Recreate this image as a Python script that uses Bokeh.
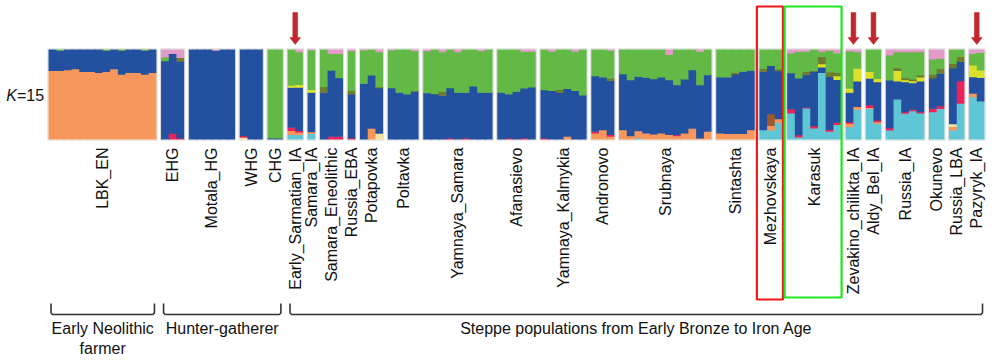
import numpy as np
from bokeh.plotting import figure
from bokeh.models import Range1d
from bokeh.core.properties import value
from bokeh.embed import file_html
from bokeh.resources import INLINE

# ---------------- data ----------------
# ancestry components, stacked bottom -> top
COMPONENTS = ["cyan", "orange", "cream", "red", "brown", "blue", "yellow", "olive", "green", "pink"]
COMPONENT_COLORS = ["#5ec6d4", "#f7975b", "#f4e6a2", "#e8245c", "#9c5a2e",
                    "#23509f", "#dbe02b", "#6f7b2e", "#63b946", "#e29ac8"]

POPULATIONS = ["LBK_EN", "EHG", "Motala_HG", "WHG", "CHG", "Early_Sarmatian_IA", "Samara_IA",
               "Samara_Eneolithic", "Russia_EBA", "Potapovka", "Poltavka", "Yamnaya_Samara",
               "Afanasievo", "Yamnaya_Kalmykia", "Andronovo", "Srubnaya", "Sintashta",
               "Mezhovskaya", "Karasuk", "Zevakino_chilikta_IA", "Aldy_Bel_IA", "Russia_IA",
               "Okunevo", "Russia_LBA", "Pazyryk_IA"]

# one row per individual, % per component:
#   (cyan, orange, cream, red, brown, blue, yellow, olive, green, pink)
LBK_EN = [
    (0, 76, 0, 0, 0, 24, 0, 0, 0, 0), (0, 76, 0, 0, 0, 22.5, 0, 0, 1.5, 0),
    (0, 77, 0, 0, 0, 23, 0, 0, 0, 0), (0, 78, 0, 0, 0, 22, 0, 0, 0, 0),
    (0, 75, 0, 0, 0, 25, 0, 0, 0, 0), (0, 75, 0, 0, 0, 25, 0, 0, 0, 0),
    (0, 74, 0, 0, 0, 26, 0, 0, 0, 0), (0, 75, 0, 0, 0, 23.5, 0, 0, 1.5, 0),
    (0, 78, 0, 0, 0, 22, 0, 0, 0, 0), (0, 72, 0, 0, 0, 26.5, 0, 0, 1.5, 0),
    (0, 74, 0, 0, 0, 26, 0, 0, 0, 0), (0, 74, 0, 0, 0, 26, 0, 0, 0, 0),
    (0, 72, 0, 0, 0, 26.5, 0, 0, 1.5, 0), (0, 74, 0, 0, 0, 26, 0, 0, 0, 0),
]
EHG = [
    (0, 0, 0, 0, 0, 87, 0, 0, 4, 9),
    (0, 0, 0, 6.5, 0, 88.5, 0, 0, 0, 5),
    (0, 0, 0, 1, 0, 85.5, 0, 4, 0, 9.5),
]
MOTALA_HG = [
    (0, 0, 0, 0, 0, 100, 0, 0, 0, 0), (0, 0, 0, 0, 0, 100, 0, 0, 0, 0),
    (0, 0, 0, 0, 0, 100, 0, 0, 0, 0), (0, 0, 0, 0, 0, 98.5, 0, 0, 0, 1.5),
    (0, 0, 0, 0, 0, 100, 0, 0, 0, 0), (0, 0, 0, 0, 0, 100, 0, 0, 0, 0),
]
WHG = [
    (0, 0, 2, 1.5, 0, 96.5, 0, 0, 0, 0),
    (0, 0, 0, 0, 0, 100, 0, 0, 0, 0),
    (0, 0, 0, 0, 0, 100, 0, 0, 0, 0),
]
CHG = [
    (0, 0, 0, 0, 0, 1, 0, 0, 99, 0),
    (0, 0, 0, 0, 0, 1, 0, 0, 99, 0),
]
EARLY_SARMATIAN_IA = [
    (5, 4.5, 0, 3.5, 0, 44.5, 2.2, 0, 40.3, 0),
    (5, 2.5, 0, 2, 0, 48, 3, 0, 36.5, 3),
]
SAMARA_IA = [
    (6, 2, 0, 0, 0, 44, 3, 0, 44, 1),
]
SAMARA_ENEOLITHIC = [
    (0, 0, 0, 0, 0, 52, 0, 6, 42, 0),
    (0, 0, 0, 3, 0, 73.5, 0, 0, 18.5, 5),
    (0, 0, 0, 3, 0, 65, 0, 0, 27, 5),
]
RUSSIA_EBA = [
    (0, 0, 0, 1, 0, 49, 0, 4, 44, 2),
]
POTAPOVKA = [
    (0, 0, 0, 0, 0, 62, 0, 0, 37, 1),
    (0, 12, 0, 0, 0, 59, 0, 0, 29, 0),
    (0, 0, 6.5, 0, 0, 50.5, 0, 1, 39, 3),
]
POLTAVKA = [
    (0, 0, 0, 0, 0, 57, 0, 0, 42, 1),
    (0, 0, 0, 0, 0, 52, 0, 0, 48, 0),
    (0, 0, 0, 0, 0, 50, 0, 0, 50, 0),
    (0, 0, 0, 0, 0, 53, 0, 1, 44, 2),
]
YAMNAYA_SAMARA = [
    (0, 0, 0, 0, 0, 51.5, 0, 0, 46.5, 2),
    (0, 0, 0, 0, 0, 50.4, 0, 0, 49.6, 0),
    (0, 0, 0, 0, 0, 48.5, 0, 4.5, 44, 3),
    (0, 0, 0, 1, 0, 56, 0, 0, 43, 0),
    (0, 0, 0, 0, 0, 52, 0, 0, 45, 3),
    (0, 0, 0, 1, 0, 51, 0, 0, 48, 0),
    (0, 0, 0, 0, 0, 59, 0, 0, 41, 0),
    (0, 0, 0, 0, 0, 52, 0, 0, 46, 2),
    (0, 0, 0, 0, 0, 52, 0, 0, 48, 0),
]
AFANASIEVO = [
    (0, 0, 0, 0, 0, 52, 0, 0, 48, 0),
    (0, 0, 0, 1, 0, 49, 0, 0, 50, 0),
    (0, 0, 0, 0, 0, 53, 0, 0, 47, 0),
    (0, 0, 0, 1, 0, 55.7, 0, 0, 40.8, 2.5),
    (0, 0, 0, 0, 0, 57.8, 0, 0, 39.7, 2.5),
]
YAMNAYA_KALMYKIA = [
    (0, 0, 0, 1, 0, 53.8, 0, 0, 45.2, 0),
    (0, 0, 0, 0, 0, 54, 0, 0, 43.5, 2.5),
    (0, 0, 0, 0, 0, 52, 0, 3, 45, 0),
    (0, 3, 0, 0, 0, 53, 0, 0, 44, 0),
    (0, 0, 0, 0, 0, 54, 0, 0, 43.5, 2.5),
    (0, 0, 0, 0, 0, 49, 0, 0, 51, 0),
]
ANDRONOVO = [
    (0, 6.7, 0, 2, 0, 61.7, 0, 0, 29.6, 0),
    (0, 10.4, 0, 0, 0, 58.5, 0, 0, 31.1, 0),
    (0, 3, 0, 2, 0, 60, 0, 2.6, 30.9, 1.5),
]
SRUBNAYA = [
    (0, 10.4, 0, 0, 0, 62.2, 0, 0, 27.4, 0),
    (0, 3.7, 0, 0, 0, 62.2, 0, 0, 34.1, 0),
    (1, 8.3, 0, 0, 0, 60.3, 0, 0, 30.4, 0),
    (0, 6.7, 0, 0, 0, 61.8, 0, 0, 31.5, 0),
    (0, 5.6, 0, 0, 0, 61.4, 0, 0, 33, 0),
    (0, 6.7, 0, 0, 0, 62.2, 0, 0, 31.1, 0),
    (0, 5, 0, 0, 0, 60.9, 0, 0, 28.1, 6),
    (0, 3.7, 0, 1, 0, 55.7, 0, 0, 39.6, 0),
    (0, 6.7, 0, 0, 0, 60, 0, 0, 33.3, 0),
    (0, 12, 0, 0, 0, 65, 0, 0, 23, 0),
    (0, 1, 0, 0, 0, 59.4, 0, 0, 37, 2.6),
    (0, 8.5, 0, 0, 0, 63, 0, 0, 28.5, 0),
]
SINTASHTA = [
    (0, 6.7, 0, 0, 0, 62.2, 0, 0, 31.1, 0),
    (0, 6, 0, 0, 0, 62.9, 0, 0, 31.1, 0),
    (0, 6, 0, 0, 0, 66.3, 0, 1.8, 25.9, 0),
    (0, 6, 0, 0, 0, 69.2, 0, 0, 24.8, 0),
    (0, 10.4, 0, 0, 0, 65.9, 0, 0, 23.7, 0),
]
MEZHOVSKAYA = [
    (10.4, 0, 0, 0, 0, 64.8, 0, 3, 21.8, 0),
    (10, 5, 0, 0, 13, 53.7, 0, 0, 18.3, 0),
    (18.5, 4, 0, 0, 0, 53.3, 0, 2, 22.2, 0),
]
KARASUK = [
    (28.9, 0, 0, 4.8, 0, 40, 0, 0, 21.9, 4.4),
    (2.2, 0, 0, 2.6, 0, 63, 0, 0, 29.6, 2.6),
    (34.4, 0, 0, 1, 0, 35.9, 0, 3.7, 22.4, 2.6),
    (12.2, 0, 0, 2.6, 0, 60.4, 0, 1, 23.8, 0),
    (74, 0, 0, 0, 0, 6, 3.7, 8, 5.7, 2.6),
    (8.5, 0, 0, 2, 0, 59, 0, 5, 24, 1.5),
    (16, 0, 0, 2.6, 0, 47.4, 4.4, 3.7, 21.5, 4.4),
]
ZEVAKINO_CHILIKTA_IA = [
    (13.7, 3.7, 0, 1.8, 0, 32.6, 4.4, 0, 41.5, 2.2),
    (33, 3, 0, 0, 0, 28.4, 14, 0, 18.5, 3),
]
ALDY_BEL_IA = [
    (34, 1, 0, 3, 0, 29.6, 7.4, 0, 25, 0),
    (17.4, 1.8, 0, 1.8, 0, 42.6, 3.7, 0, 32.7, 0),
]
RUSSIA_IA = [
    (10, 0, 0, 2.6, 0, 53, 0, 0, 27.8, 6.7),
    (44.4, 0, 0, 0, 0, 20, 11.8, 3, 17.8, 3),
    (28.5, 0, 0, 1.8, 0, 33.3, 2.2, 2.2, 28.9, 3),
    (31.5, 0, 0, 1.5, 0, 29.6, 2.2, 1.9, 30.3, 3),
    (28.9, 0, 0, 1.5, 0, 34, 4.4, 2.2, 26, 3),
]
OKUNEVO = [
    (30.4, 0, 0, 3.7, 0, 33.7, 0, 4.4, 17, 11),
    (34, 0, 0, 3, 0, 36, 0, 5.6, 11, 10.4),
]
RUSSIA_LBA = [
    (10, 4, 3, 0, 0, 62, 0, 4.8, 16.2, 0),
    (39.6, 0, 0, 25.2, 0, 21.2, 0, 5.6, 8.4, 0),
]
PAZYRYK_IA = [
    (47, 3.7, 0, 0, 0, 18.5, 13, 0, 13, 4.8),
    (42.2, 0, 0, 0, 0, 26, 8.5, 0, 19.6, 3.7),
]

ANCESTRY = [LBK_EN, EHG, MOTALA_HG, WHG, CHG, EARLY_SARMATIAN_IA, SAMARA_IA,
            SAMARA_ENEOLITHIC, RUSSIA_EBA, POTAPOVKA, POLTAVKA, YAMNAYA_SAMARA,
            AFANASIEVO, YAMNAYA_KALMYKIA, ANDRONOVO, SRUBNAYA, SINTASHTA,
            MEZHOVSKAYA, KARASUK, ZEVAKINO_CHILIKTA_IA, ALDY_BEL_IA, RUSSIA_IA,
            OKUNEVO, RUSSIA_LBA, PAZYRYK_IA]

ARROW_POPS = ["Early_Sarmatian_IA", "Zevakino_chilikta_IA", "Aldy_Bel_IA", "Pazyryk_IA"]
GROUP_LABELS = [["Early Neolithic", "farmer"], ["Hunter-gatherer"],
                ["Steppe populations from Early Bronze to Iron Age"]]
GROUP_SPANS = [("LBK_EN", "LBK_EN"), ("EHG", "CHG"), ("Early_Sarmatian_IA", "Pazyryk_IA")]
K_LABEL = ("K", "=15")

# ---------------- layout ----------------
GAP = 0.6
OVX, OVY = 0.15, 0.006   # small overlaps to hide anti-aliasing seams
lefts, rights, bottoms, tops, colors = [], [], [], [], []
spans = {}
x = 0.0
for name, inds in zip(POPULATIONS, ANCESTRY):
    start = x
    for j, ind in enumerate(inds):
        v = np.array(ind, dtype=float)
        v = v / v.sum()
        nz = [k for k in range(len(v)) if v[k] > 0]
        cum = 0.0
        for k in nz:
            f = v[k]
            lefts.append(x)
            rights.append(x + 1 + (OVX if j < len(inds) - 1 else 0))
            bottoms.append(cum)
            tops.append(cum + f + (OVY if k != nz[-1] else 0))
            colors.append(COMPONENT_COLORS[k])
            cum += f
        x += 1
    spans[name] = (start, x)
    x += GAP
total = x - GAP

W, H = 1000, 363
PX0, PX1 = 48, 984          # px of the bar block
PY_TOP, PY_BOT = 49, 139    # px of bar top / bottom
PPU = (PX1 - PX0) / total


def ix(px):
    return (px - PX0) / PPU


def iy(py):
    return (PY_BOT - py) / (PY_BOT - PY_TOP)


p = figure(width=W, height=H, output_backend="svg", toolbar_location=None,
           x_range=Range1d(ix(0), ix(W)), y_range=Range1d(iy(H), iy(0)),
           x_axis_location=None, y_axis_location=None, min_border=0,
           min_border_left=0, min_border_right=0, min_border_top=0, min_border_bottom=0)
p.grid.visible = False
p.outline_line_color = None
p.background_fill_color = "white"

FONT = value("Liberation Sans")

# faint panel outlines
pad = 0.6 / PPU
p.quad(left=[spans[n][0] - pad for n in POPULATIONS], right=[spans[n][1] + pad for n in POPULATIONS],
       bottom=iy(PY_BOT + 0.6), top=iy(PY_TOP - 0.6), fill_color=None, line_color="#dadada", line_width=1)

# admixture bars
p.quad(left=lefts, right=rights, bottom=bottoms, top=tops, fill_color=colors, line_color=None)

# population labels
centers = [(spans[n][0] + spans[n][1]) / 2 for n in POPULATIONS]
p.text(x=centers, y=[iy(147)] * len(centers), text=POPULATIONS, angle=np.pi / 2,
       text_align="right", text_baseline="middle", text_font=FONT,
       text_font_size=value("16px"), text_color="#111111")

# K=15
p.text(x=[ix(16.5)], y=[iy(95)], text=[K_LABEL[0]], text_align="right", text_baseline="middle",
       text_font=FONT, text_font_size=value("16px"), text_font_style="italic", text_color="#111111")
p.text(x=[ix(16.5)], y=[iy(95)], text=[K_LABEL[1]], text_align="left", text_baseline="middle",
       text_font=FONT, text_font_size=value("16px"), text_color="#111111")

# red arrows
xs_ar, ys_ar = [], []
for n in ARROW_POPS:
    c = (spans[n][0] + spans[n][1]) / 2 * PPU + PX0
    shaft, head = 2.4, 5.5
    pts = [(c - shaft, 12), (c + shaft, 12), (c + shaft, 37), (c + head, 37), (c, 44),
           (c - head, 37), (c - shaft, 37)]
    xs_ar.append([ix(a) for a, b in pts])
    ys_ar.append([iy(b) for a, b in pts])
p.patches(xs=xs_ar, ys=ys_ar, fill_color="#c1272d", line_color="#c1272d", line_width=0.5)

# highlight boxes
mz, ka = spans["Mezhovskaya"], spans["Karasuk"]
p.quad(left=[mz[0] - 2.5 / PPU], right=[mz[1] + 0.5 / PPU], bottom=[iy(299)], top=[iy(6)],
       fill_color=None, line_color="#f01818", line_width=2.2)
p.quad(left=[ka[0] - 2.5 / PPU], right=[ka[1] + 0.5 / PPU], bottom=[iy(297)], top=[iy(6)],
       fill_color=None, line_color="#1ee61e", line_width=2.2)

# group brackets and labels
bx, by = [], []
for (a, b), lines in zip(GROUP_SPANS, GROUP_LABELS):
    x0 = spans[a][0] + 2.5 / PPU
    x1 = spans[b][1] - 2 / PPU
    r = 1.5 / PPU
    bx.append([x0, x0, x0 + r, x1 - r, x1, x1])
    by.append([iy(303), iy(312.5), iy(314), iy(314), iy(312.5), iy(303)])
    cx = (x0 + x1) / 2
    for i, t in enumerate(lines):
        p.text(x=[cx], y=[iy(328 + 20 * i)], text=[t], text_align="center", text_baseline="middle",
               text_font=FONT, text_font_size=value("16px"), text_color="#111111")
p.multi_line(xs=bx, ys=by, line_color="#333333", line_width=1.6)

html = file_html(p, INLINE)
open("out.html", "w").write(html)
